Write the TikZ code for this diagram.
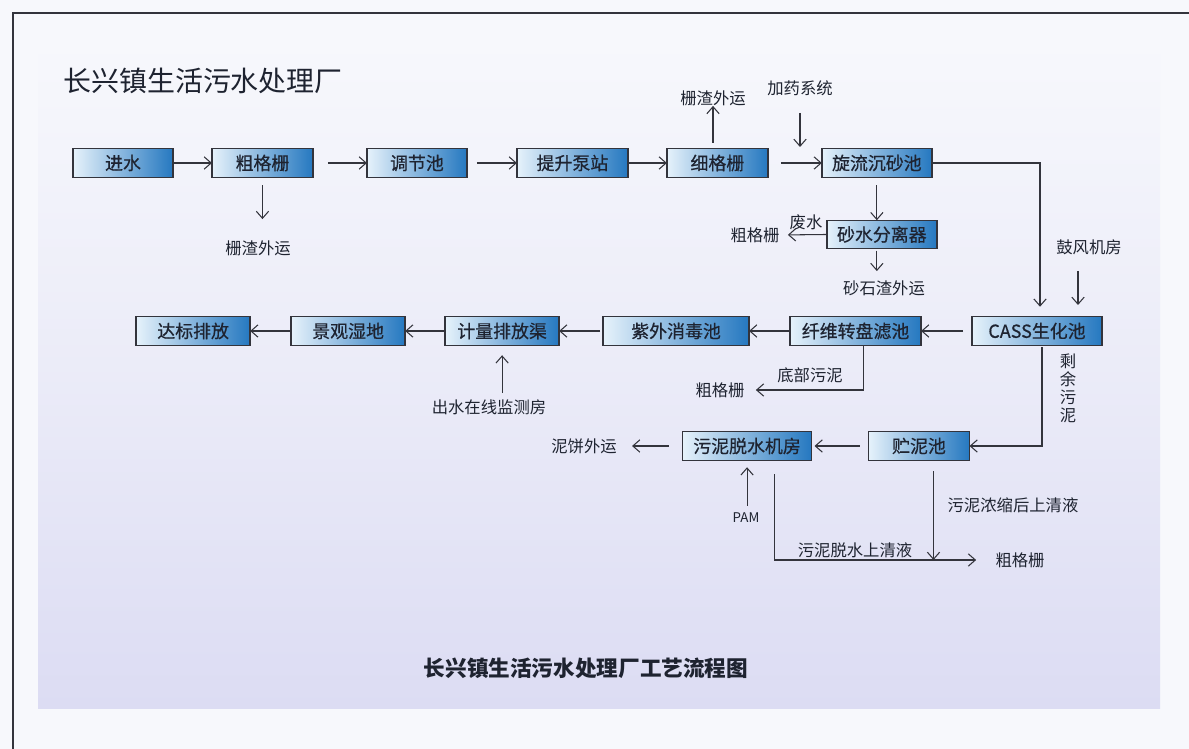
\documentclass[tikz,border=0pt]{standalone}
\usepackage{fontspec}
\setmainfont{Noto Sans CJK SC}
\newfontfamily\boxfont{Noto Sans CJK SC}[FakeBold=0.6]
\usetikzlibrary{arrows.meta,positioning}

\definecolor{boxlight}{HTML}{E6F2FB}
\definecolor{boxdark}{HTML}{2578C0}
\definecolor{inkline}{HTML}{33343C}
\definecolor{paper}{HTML}{F7F8FC}
\definecolor{lavender}{HTML}{DCDCF3}
\definecolor{txt}{HTML}{1E2330}

\begin{document}
\begin{tikzpicture}[x=0.02cm, y=-0.02cm, >={Straight Barb[length=4pt,width=7pt]},
    proc/.style={draw=inkline, line width=0.8pt, left color=boxlight, right color=boxdark,
        minimum height=0.57cm, inner sep=0pt, outer sep=0pt, text=txt,
        font=\boxfont\fontsize{10.2}{12}\selectfont},
    lbl/.style={inner sep=0pt, text=txt, font=\fontsize{9.3}{11}\selectfont},
    flow/.style={->, draw=inkline, line width=0.6pt}]

    % Background

    \useasboundingbox (0,0) rectangle (1189,749);
    \fill[paper] (0,0) rectangle (1189,749);
    \shade[top color=paper, bottom color=lavender, middle color=paper!55!lavender]
        (38,40) rectangle (1160,708);
    \draw[inkline, line width=1.1pt] (13,749) -- (13,13) -- (1189,13);

    \node[anchor=west, inner sep=0pt, text=txt, font=\fontsize{15.9}{18}\selectfont]
        (title) at (63,81) {长兴镇生活污水处理厂};
    \node[inner sep=0pt, text=txt, font=\bfseries\fontsize{12.3}{14}\selectfont]
        (caption) at (586,668) {长兴镇生活污水处理厂工艺流程图};

    % Nodes

    \node[proc, minimum width=2cm]                             (jinshui)  at (123,163) {进水} ; %
    \node[proc, minimum width=2.02cm, right=0.78cm of jinshui]  (cugeshan) {粗格栅} ; %
    \node[proc, minimum width=2cm,    right=1.08cm of cugeshan] (tiaojie)  {调节池} ; %
    \node[proc, minimum width=2.22cm, right=1cm of tiaojie]     (tisheng)  {提升泵站} ; %
    \node[proc, minimum width=2.02cm, right=0.78cm of tisheng]  (xigeshan) {细格栅} ; %
    \node[proc, minimum width=2.2cm,  right=1.08cm of xigeshan] (xuanliu)  {旋流沉砂池} ; %
    \node[proc, minimum width=2.2cm,  below=0.86cm of xuanliu, xshift=0.1cm] (shashui) {砂水分离器} ; %

    \node[proc, minimum width=2.6cm]                            (cass)     at (1037,331) {CASS生化池} ; %
    \node[proc, minimum width=2.62cm, left=1.02cm of cass]      (xianwei)  {纤维转盘滤池} ; %
    \node[proc, minimum width=2.92cm, left=0.82cm of xianwei]   (ziwai)    {紫外消毒池} ; %
    \node[proc, minimum width=2.28cm, left=0.88cm of ziwai]     (jiliang)  {计量排放渠} ; %
    \node[proc, minimum width=2.28cm, left=0.8cm of jiliang]    (jingguan) {景观湿地} ; %
    \node[proc, minimum width=2.28cm, left=0.82cm of jingguan]  (dabiao)   {达标排放} ; %

    \node[proc, minimum width=2.02cm]                           (zhuni)    at (919,446) {贮泥池} ; %
    \node[proc, minimum width=2.58cm, left=1.14cm of zhuni]     (tuoshui)  {污泥脱水机房} ; %

    % Labels

    \node[lbl] (zhazhaA)  at (258,248)  {栅渣外运};
    \node[lbl] (zhazhaB)  at (713,98)   {栅渣外运};
    \node[lbl] (jiayao)   at (800,88)   {加药系统};
    \node[lbl] (feishui)  at (806,222)  {废水};
    \node[lbl] (cgsA)     at (755,235)  {粗格栅};
    \node[lbl] (shashi)   at (884,288)  {砂石渣外运};
    \node[lbl] (gufeng)   at (1089,247) {鼓风机房};
    \node[lbl] (jiance)   at (489,407)  {出水在线监测房};
    \node[lbl] (dibu)     at (810,375)  {底部污泥};
    \node[lbl] (cgsB)     at (720,390)  {粗格栅};
    \node[lbl, align=center, font=\fontsize{9.3}{10.2}\selectfont]
               (shengyu)  at (1068,388) {剩\\余\\污\\泥};
    \node[lbl] (nibing)   at (584,446)  {泥饼外运};
    \node[lbl, font=\fontsize{7.6}{9}\selectfont] (pam) at (746,518) {PAM};
    \node[lbl] (nongsuo)  at (1013,505) {污泥浓缩后上清液};
    \node[lbl] (tuoqing)  at (855,550)  {污泥脱水上清液};
    \node[lbl] (cgsC)     at (1020,560) {粗格栅};

    \coordinate (jyend) at (800,147);
    \coordinate (gfx)   at (1078,305);

    % Main line

    \draw[flow] (jinshui) -- (cugeshan);
    \draw[flow, shorten <=0.3cm] (cugeshan) -- (tiaojie);
    \draw[flow, shorten <=0.2cm] (tiaojie) -- (tisheng);
    \draw[flow] (tisheng) -- (xigeshan);
    \draw[flow, shorten <=0.26cm] (xigeshan) -- (xuanliu);
    \draw[flow, shorten >=0.2cm] (xuanliu.east) -| ([xshift=0.06cm]cass.north);
    \draw[flow, shorten <=0.18cm] (cass) -- (xianwei);
    \draw[flow] (xianwei) -- (ziwai);
    \draw[flow, shorten <=0.06cm] (ziwai) -- (jiliang);
    \draw[flow] (jiliang) -- (jingguan);
    \draw[flow] (jingguan) -- (dabiao);

    % Side streams

    \draw[flow, shorten <=0.16cm, shorten >=0.42cm] (cugeshan.south) -- (cugeshan.south |- zhazhaA.north);
    \draw[flow, shorten <=0.12cm] (xigeshan.north -| zhazhaB) -- (zhazhaB.south);
    \draw[flow, shorten <=0.34cm] (jiayao.south) -- (jyend);
    \draw[flow, shorten <=0.16cm] (xuanliu.south) -- (xuanliu.south |- shashui.north);
    \draw[flow, shorten >=0.16cm] (shashui.west) -- (cgsA.east);
    \draw[flow, shorten <=0.04cm, shorten >=0.18cm] (xuanliu.south |- shashui.south) -- (xuanliu.south |- shashi.north);
    \draw[flow, shorten <=0.32cm] (gufeng.south -| gfx) -- (gfx);
    \draw[flow, shorten <=0.12cm, shorten >=0.2cm] (jiance.north -| jiliang) -- (jiliang.south);
    \draw[flow, shorten >=0.22cm] ([xshift=0.15cm]xianwei.south) |- (cgsB.east);
    \draw[flow, shorten <=0.04cm] ([xshift=0.1cm]cass.south) |- (zhuni.east);
    \draw[flow, shorten <=0.18cm, shorten >=0.06cm] (zhuni) -- (tuoshui);
    \draw[flow, shorten <=0.28cm, shorten >=0.3cm] (tuoshui.west) -- (nibing.east);
    \draw[flow, shorten <=0.14cm, shorten >=0.14cm] (pam.north -| tuoshui) -- (tuoshui.south);
    \draw[flow, shorten <=0.28cm, shorten >=0.38cm] ([xshift=0.55cm]tuoshui.south) |- (cgsC.west);
    \draw[flow, shorten <=0.22cm] ([xshift=0.29cm]zhuni.south) -- ([xshift=0.29cm]zhuni.south |- cgsC);

\end{tikzpicture}
\end{document}
